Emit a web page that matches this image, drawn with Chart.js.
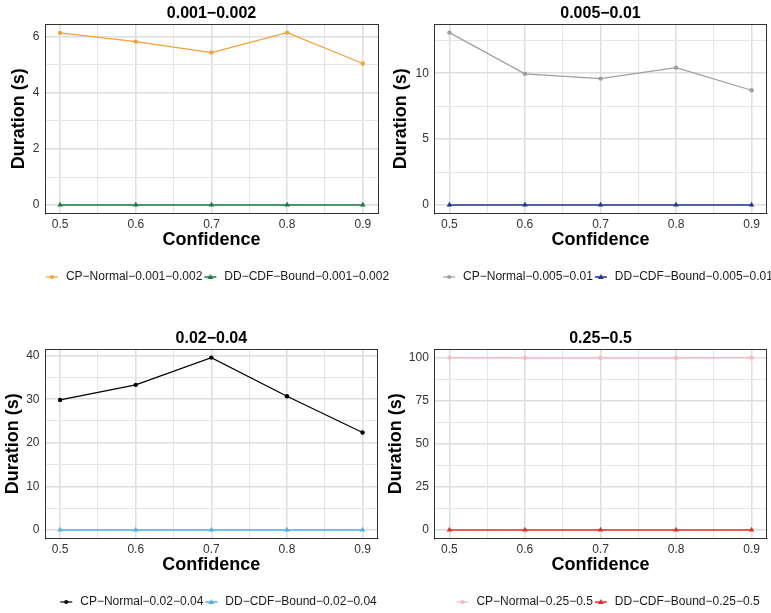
<!DOCTYPE html>
<html><head><meta charset="utf-8">
<script src="https://cdn.jsdelivr.net/npm/chart.js@4"></script>
<style>
html,body{margin:0;padding:0;background:#fff;overflow:hidden;width:771px;height:613px;position:relative}
canvas{position:absolute}
</style></head><body>
<script>
// ---- data ----
const confidence = [0.5, 0.6, 0.7, 0.8, 0.9];
const xTickLabels = ['0.5', '0.6', '0.7', '0.8', '0.9'];
const panelTitles = ['0.001−0.002', '0.005−0.01', '0.02−0.04', '0.25−0.5'];
const cpNormal_0001 = [6.13, 5.82, 5.43, 6.14, 5.04];
const ddCdf_0001    = [0.01, 0.01, 0.01, 0.01, 0.01];
const cpNormal_0005 = [13.08, 9.95, 9.59, 10.42, 8.71];
const ddCdf_0005    = [0.01, 0.01, 0.01, 0.01, 0.01];
const cpNormal_002  = [29.85, 33.3, 39.55, 30.7, 22.36];
const ddCdf_002     = [0.02, 0.02, 0.02, 0.02, 0.02];
const cpNormal_025  = [100.1, 100.0, 100.0, 100.0, 100.1];
const ddCdf_025     = [0.05, 0.05, 0.05, 0.05, 0.05];
const yMajorStep = [2, 5, 10, 25];

// ---- styling / layout ----
const FONT = '"Liberation Sans", Arial, Helvetica, sans-serif';
Chart.defaults.font.family = FONT;
const series = [
  [cpNormal_0001, ddCdf_0001],
  [cpNormal_0005, ddCdf_0005],
  [cpNormal_002, ddCdf_002],
  [cpNormal_025, ddCdf_025]
];
const colors = [
  ['#F7A035', '#1B7A46'],
  ['#9E9E9E', '#27348B'],
  ['#000000', '#4EB3E8'],
  ['#F7B7C3', '#EE2B2B']
];
const geo = [
  {left: 0,   top: 0,   width: 433, yW: 45,   plotRight: 378,   yTitlePad: 10.5},
  {left: 385, top: 0,   width: 444, yW: 49.3, plotRight: 381.7, yTitlePad: 7.5},
  {left: 0,   top: 325, width: 435, yW: 45,   plotRight: 377.7, yTitlePad: 4},
  {left: 385, top: 325, width: 444, yW: 49.3, plotRight: 381.7, yTitlePad: 2}
];
const H = 293;

function makeIcon(color, shape, lw) {
  const c = document.createElement('canvas');
  c.width = 16; c.height = 10;
  const g = c.getContext('2d');
  g.strokeStyle = color; g.fillStyle = color; g.lineWidth = lw;
  g.beginPath(); g.moveTo(2, 5); g.lineTo(14, 5); g.stroke();
  g.beginPath();
  if (shape === 'circle') { g.arc(8, 5, 2, 0, Math.PI * 2); }
  else { g.moveTo(8, 2); g.lineTo(11, 7); g.lineTo(5, 7); g.closePath(); }
  g.fill();
  return c;
}

const isMult = (v, s) => Math.abs(v / s - Math.round(v / s)) < 1e-6;

for (let p = 0; p < 4; p++) {
  const G = geo[p];
  const cv = document.createElement('canvas');
  cv.width = G.width; cv.height = H;
  cv.style.left = G.left + 'px'; cv.style.top = G.top + 'px';
  cv.style.width = G.width + 'px'; cv.style.height = H + 'px';
  document.body.appendChild(cv);

  const [cp, dd] = series[p];
  const [c1, c2] = colors[p];
  const all = cp.concat(dd);
  const lo = Math.min(...all), hi = Math.max(...all), span = hi - lo;
  const step = yMajorStep[p];
  const title = panelTitles[p];
  const icons = [makeIcon(c1, 'circle', 1.2), makeIcon(c2, 'triangle', 1.5)];
  const gridColor = (s) => (ctx) => isMult(ctx.tick.value, s) ? '#dedede' : '#e6e6e6';
  const gridWidth = (s) => (ctx) => isMult(ctx.tick.value, s) ? 1.5 : 1.1;

  new Chart(cv, {
    type: 'line',
    data: {
      datasets: [
        {label: 'CP−Normal−' + title, data: confidence.map((x, i) => ({x, y: cp[i]})),
         borderColor: c1, backgroundColor: c1, borderWidth: 1.2, pointRadius: 2.2,
         pointStyle: 'circle', pointBorderWidth: 0, tension: 0},
        {label: 'DD−CDF−Bound−' + title, data: confidence.map((x, i) => ({x, y: dd[i]})),
         borderColor: c2, backgroundColor: c2, borderWidth: 1.5, pointRadius: 3.2,
         pointStyle: 'triangle', pointBorderWidth: 0, tension: 0}
      ]
    },
    options: {
      responsive: false, animation: false, devicePixelRatio: 1,
      layout: {padding: 0},
      plugins: {
        tooltip: {enabled: false},
        title: {display: true, text: title, fullSize: false, color: '#000',
                font: {size: 16, weight: 'bold', lineHeight: 1}, padding: {top: 5.6, bottom: 2.4}},
        legend: {display: true, position: 'bottom', fullSize: true,
          labels: {usePointStyle: true, pointStyleWidth: 16, padding: 0, color: '#1a1a1a',
            font: {size: 12},
            generateLabels: (chart) => chart.data.datasets.map((ds, i) => ({
              text: ds.label, pointStyle: icons[i], fillStyle: ds.borderColor,
              strokeStyle: ds.borderColor, lineWidth: 0, hidden: false, datasetIndex: i,
              fontColor: '#1a1a1a'
            }))
          }
        }
      },
      scales: {
        x: {type: 'linear', position: 'bottom', min: 0.48, max: 0.92,
          ticks: {stepSize: 0.05, includeBounds: false, autoSkip: false, maxRotation: 0, minRotation: 0,
                  padding: 3.5, color: '#333', font: {size: 12},
                  callback: (v) => {
                    const i = confidence.findIndex(c => Math.abs(c - v) < 1e-6);
                    return i >= 0 ? xTickLabels[i] : '';
                  }},
          grid: {drawTicks: false, color: gridColor(0.1), lineWidth: gridWidth(0.1)},
          border: {display: true, color: '#333', width: 1},
          title: {display: true, text: 'Confidence', color: '#000',
                  font: {size: 18, weight: 'bold', lineHeight: 1}, padding: {top: 0, bottom: 21.5}},
          afterFit: (s) => { s.height = 57.5; }
        },
        y: {type: 'linear', position: 'left', min: lo - 0.05 * span, max: hi + 0.05 * span,
          ticks: {stepSize: step / 2, includeBounds: false, autoSkip: false, padding: 5.5,
                  color: '#333', font: {size: 12},
                  callback: (v) => isMult(v, step) ? String(Math.round(v)) : ''},
          grid: {drawTicks: false, color: gridColor(step), lineWidth: gridWidth(step)},
          border: {display: true, color: '#333', width: 1},
          title: {display: true, text: 'Duration (s)', color: '#000',
                  font: {size: 18, weight: 'bold', lineHeight: 1}, padding: {top: G.yTitlePad, bottom: 0}},
          afterFit: (s) => { s.width = G.yW; }
        },
        xt: {type: 'linear', position: 'top', ticks: {display: false},
          grid: {display: false, drawTicks: false}, border: {display: true, color: '#333', width: 1},
          afterFit: (s) => { s.height = 0; }
        },
        yr: {type: 'linear', position: 'right', ticks: {display: false},
          grid: {display: false, drawTicks: false}, border: {display: true, color: '#333', width: 1},
          afterFit: (s) => { s.width = G.width - G.plotRight; }
        }
      }
    }
  });
}
</script>
</body></html>
